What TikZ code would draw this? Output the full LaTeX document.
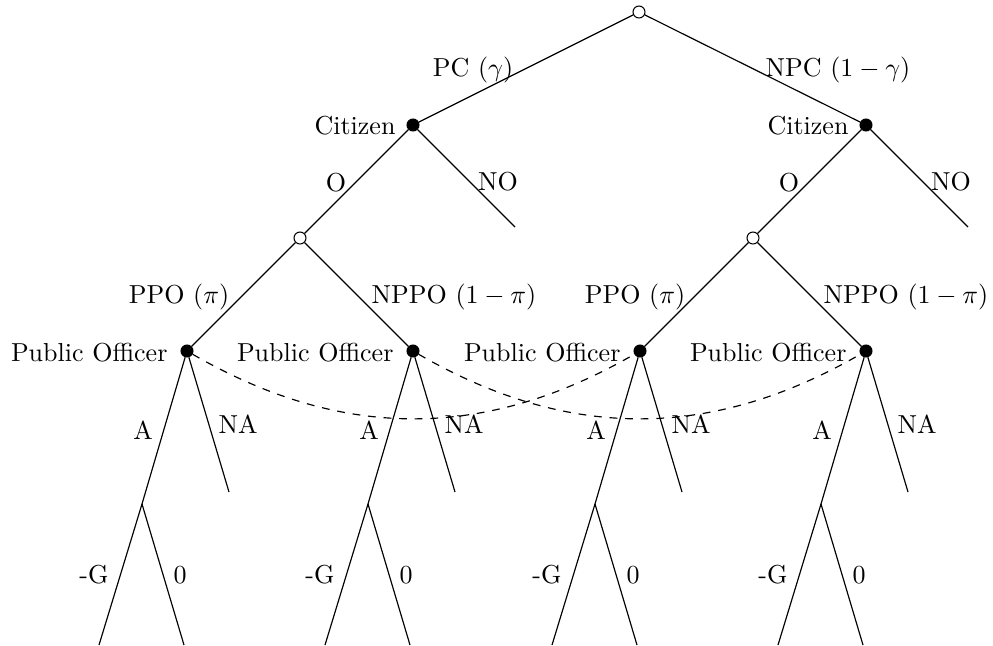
\documentclass[tikz,border=0pt]{standalone}
\begin{document}
\begin{tikzpicture}[x=0.3846pt,y=-0.3846pt,
  chance/.style={circle,draw,fill=white,inner sep=0pt,minimum size=4.6pt},
  player/.style={circle,draw,fill=black,inner sep=0pt,minimum size=4.6pt},
  lbl/.style={inner sep=0pt},
  edge/.style={line width=0.45pt}]
\useasboundingbox (0,0) rectangle (993,645);
% decision nodes
\node[chance] (root) at (639,12) {};
\node[player] (c1) at (413,125) {};
\node[player] (c2) at (866,125) {};
\node[chance] (n1) at (300,238) {};
\node[chance] (n2) at (753,238) {};
\coordinate (no1) at (515,227);
\coordinate (no2) at (968,227);
\foreach \i/\x in {1/187,2/413,3/640,4/866}{
  \node[player] (p\i) at (\x,351) {};
  \coordinate (a\i) at ({\x-45},504);
  \coordinate (na\i) at ({\x+42},492);
  \coordinate (g\i) at ({\x-88},645);
  \coordinate (z\i) at ({\x-3},645);
}
% edges
\draw[edge] (root) -- (c1);
\draw[edge] (root) -- (c2);
\draw[edge] (c1) -- (n1);
\draw[edge] (c1) -- (no1);
\draw[edge] (c2) -- (n2);
\draw[edge] (c2) -- (no2);
\draw[edge] (n1) -- (p1);
\draw[edge] (n1) -- (p2);
\draw[edge] (n2) -- (p3);
\draw[edge] (n2) -- (p4);
\foreach \i in {1,2,3,4}{
  \draw[edge] (p\i) -- (a\i);
  \draw[edge] (p\i) -- (na\i);
  \draw[edge] (a\i) -- (g\i);
  \draw[edge] (a\i) -- (z\i);
}
% information sets
\draw[edge,dashed] (p1) to[bend right=30] (p3);
\draw[edge,dashed] (p2) to[bend right=30] (p4);
% labels
\node[lbl] (lpc) at (473,70) {PC ($\gamma$)};
\node[lbl] (lnpc) at (838,70) {NPC ($1-\gamma$)};
\node[lbl,anchor=east] (lc1) at (396,126) {Citizen};
\node[lbl,anchor=east] (lc2) at (849,126) {Citizen};
\node[lbl] (lo1) at (336,183) {O};
\node[lbl] (lo2) at (789,183) {O};
\node[lbl] (lno1) at (498,182) {NO};
\node[lbl] (lno2) at (951,182) {NO};
\node[lbl] (lppo1) at (179,297) {PPO ($\pi$)};
\node[lbl] (lnppo1) at (454,297) {NPPO ($1-\pi$)};
\node[lbl] (lppo2) at (635,297) {PPO ($\pi$)};
\node[lbl] (lnppo2) at (906,297) {NPPO ($1-\pi$)};
\foreach \i/\x in {1/187,2/413,3/640,4/866}{
  \node[lbl,anchor=east] (lpo\i) at ({\x-19},353) {Public Officer};
  \node[lbl] (la\i) at ({\x-44},430) {A};
  \node[lbl] (lna\i) at ({\x+51},424) {NA};
  \node[lbl] (lg\i) at ({\x-93},575) {-G};
  \node[lbl] (lz\i) at ({\x-7},575) {0};
}
\end{tikzpicture}
\end{document}
